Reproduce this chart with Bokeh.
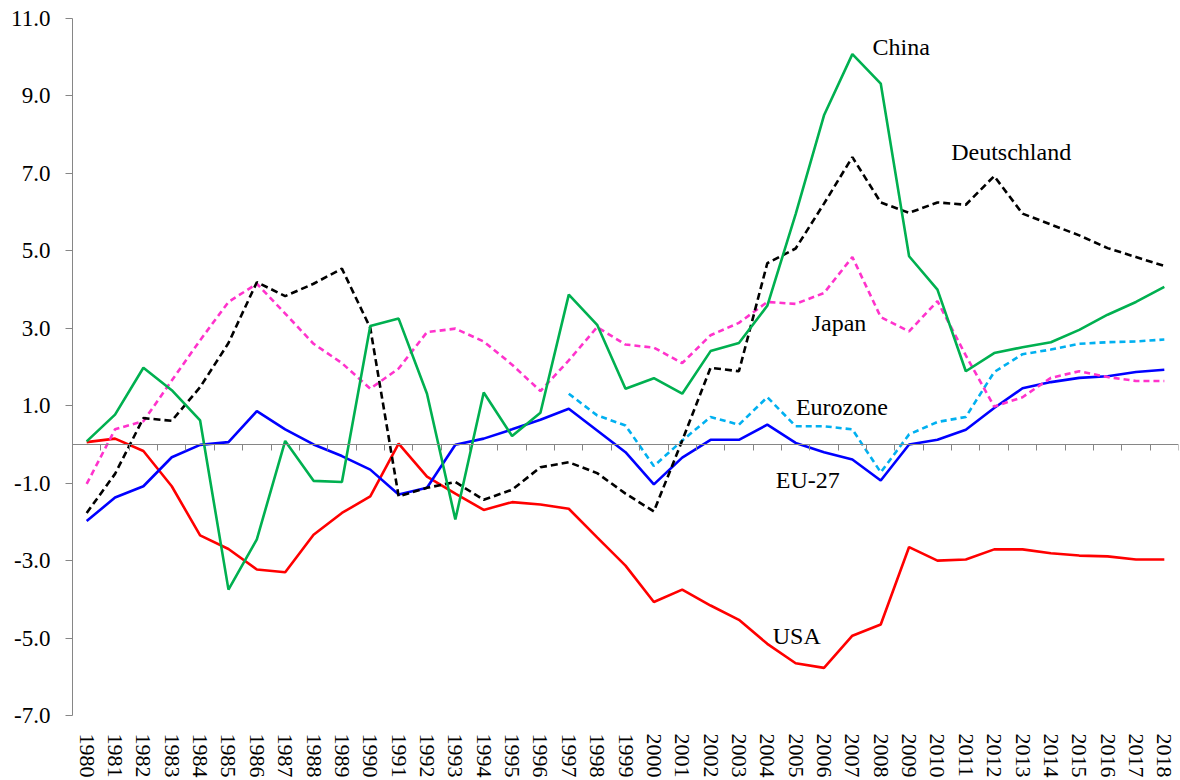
from bokeh.plotting import figure
from bokeh.models import (Range1d, FixedTicker, NumeralTickFormatter, LinearAxis,
                          ColumnDataSource, CustomJSTickFormatter)
from bokeh.core.properties import value
from bokeh.embed import file_html
from bokeh.resources import INLINE

years = list(range(1980, 2019))
eurozone_years = list(range(1997, 2019))

china = [0.08, 0.77, 1.98, 1.40, 0.62, -3.75, -2.45, 0.09, -0.94, -0.97,
         3.06, 3.25, 1.31, -1.94, 1.34, 0.22, 0.82, 3.87, 3.09, 1.44,
         1.71, 1.31, 2.41, 2.62, 3.58, 5.95, 8.50, 10.08, 9.32, 4.86,
         4.00, 1.89, 2.36, 2.51, 2.64, 2.96, 3.35, 3.68, 4.07]
deutschland = [-1.77, -0.76, 0.68, 0.61, 1.48, 2.62, 4.19, 3.83, 4.15, 4.54,
               3.01, -1.34, -1.12, -0.97, -1.43, -1.17, -0.59, -0.46, -0.74, -1.27,
               -1.73, 0.10, 1.98, 1.89, 4.68, 5.06, 6.22, 7.42, 6.25, 5.98,
               6.25, 6.19, 6.93, 5.96, 5.68, 5.40, 5.07, 4.84, 4.61]
japan = [-1.02, 0.39, 0.60, 1.65, 2.69, 3.68, 4.15, 3.38, 2.60, 2.10,
         1.44, 1.96, 2.90, 2.99, 2.66, 2.06, 1.38, 2.17, 3.03, 2.58,
         2.50, 2.10, 2.82, 3.14, 3.68, 3.63, 3.91, 4.84, 3.29, 2.92,
         3.70, 2.30, 0.98, 1.22, 1.72, 1.89, 1.74, 1.64, 1.64]
eurozone = [1.31, 0.75, 0.49, -0.56, 0.10, 0.71, 0.51, 1.22, 0.47, 0.47,
            0.39, -0.72, 0.26, 0.58, 0.71, 1.87, 2.33, 2.45, 2.60, 2.64,
            2.66, 2.71]
eu27 = [-1.98, -1.37, -1.08, -0.33, -0.01, 0.06, 0.86, 0.39, 0.00, -0.30,
        -0.65, -1.29, -1.12, -0.01, 0.15, 0.39, 0.64, 0.92, 0.36, -0.20,
        -1.03, -0.34, 0.12, 0.12, 0.51, 0.04, -0.20, -0.39, -0.93, 0.00,
        0.12, 0.38, 0.94, 1.45, 1.61, 1.72, 1.76, 1.87, 1.93]
usa = [0.06, 0.15, -0.17, -1.08, -2.35, -2.70, -3.23, -3.30, -2.33, -1.77,
       -1.34, 0.02, -0.83, -1.27, -1.69, -1.49, -1.55, -1.66, -2.40, -3.13,
       -4.07, -3.75, -4.16, -4.53, -5.15, -5.65, -5.77, -4.94, -4.65, -2.65,
       -3.00, -2.97, -2.71, -2.71, -2.81, -2.87, -2.89, -2.97, -2.97]

y_ticks = [-7, -5, -3, -1, 1, 3, 5, 7, 9, 11]

label_text = ["China", "Deutschland", "Japan", "Eurozone", "EU-27", "USA"]
label_x = [2008.72, 2012.6, 2006.53, 2006.63, 2005.43, 2005.04]
label_y = [10.26, 7.55, 3.13, 0.96, -0.93, -4.94]

SERIF = "Liberation Serif"
GRAY = "#868686"

p = figure(width=1180, height=780, output_backend="svg", toolbar_location=None,
           x_range=Range1d(1979.5, 2018.5), y_range=Range1d(-7, 11),
           min_border_left=72, min_border_right=2, min_border_top=18,
           min_border_bottom=65)
p.outline_line_color = None
p.xgrid.visible = False
p.ygrid.visible = False
p.background_fill_color = "white"

# y axis
ya = p.yaxis[0]
ya.ticker = FixedTicker(ticks=y_ticks)
ya.formatter = NumeralTickFormatter(format="0.0")
ya.axis_line_color = GRAY
ya.major_tick_line_color = GRAY
ya.major_tick_out = 7
ya.major_tick_in = 0
ya.minor_tick_line_color = None
ya.major_label_standoff = 15
ya.major_label_text_font = SERIF
ya.major_label_text_font_size = "23px"
ya.major_label_text_color = "black"

# year labels at the bottom
xa = p.xaxis[0]
xa.ticker = FixedTicker(ticks=years)
xa.formatter = NumeralTickFormatter(format="0")
xa.axis_line_color = None
xa.major_tick_line_color = None
xa.minor_tick_line_color = None
xa.major_label_orientation = "vertical"
xa.major_label_standoff = 12
xa.major_label_text_font = SERIF
xa.major_label_text_font_size = "22px"
xa.major_label_text_color = "black"

# horizontal axis line at zero with category boundary ticks hanging down
zero_axis = LinearAxis(fixed_location=0,
                       ticker=FixedTicker(ticks=[y - 0.5 for y in years] + [years[-1] + 0.5]),
                       formatter=CustomJSTickFormatter(code="return ''"),
                       axis_line_color=GRAY, major_tick_line_color=GRAY,
                       major_tick_out=0, major_tick_in=6,
                       minor_tick_line_color=None,
                       major_label_standoff=0)
p.add_layout(zero_axis, "above")

LW = 2.6
p.line(years, usa, line_color="#FF0000", line_width=LW)
p.line(years, eu27, line_color="#0000FF", line_width=LW)
p.line(eurozone_years, eurozone, line_color="#00B0F0", line_width=LW, line_dash="6 4")
p.line(years, japan, line_color="#FF33CC", line_width=LW, line_dash="6 4")
p.line(years, deutschland, line_color="#000000", line_width=LW, line_dash="7 4")
p.line(years, china, line_color="#00B050", line_width=LW)

src = ColumnDataSource(dict(x=label_x, y=label_y, t=label_text))
p.text(x="x", y="y", text="t", source=src, text_font=value(SERIF),
       text_font_size="24px", text_color="black",
       text_align="center", text_baseline="middle")

open("out.html", "w").write(file_html(p, INLINE))
